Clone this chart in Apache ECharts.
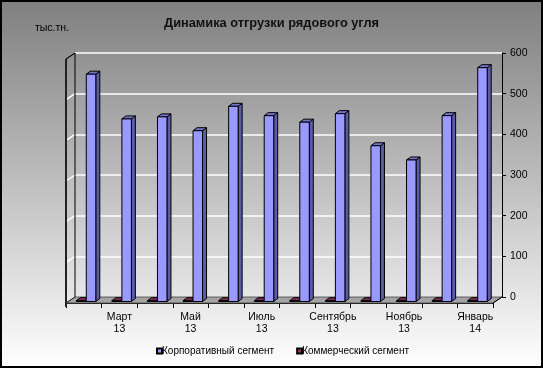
<!DOCTYPE html>
<html><head><meta charset="utf-8">
<script src="https://cdn.jsdelivr.net/npm/echarts@6/dist/echarts.min.js"></script>
<style>html,body{margin:0;padding:0;background:#fff}#c{width:543px;height:368px}</style>
</head><body><div id="c"></div>
<script>
// ---- data ----
const categories = ['Февраль\n13','Март\n13','Апрель\n13','Май\n13','Июнь\n13','Июль\n13','Август\n13','Сентябрь\n13','Октябрь\n13','Ноябрь\n13','Декабрь\n13','Январь\n14'];
const corporate = [559, 449, 454, 420, 480, 457, 441, 462, 383, 348, 457, 575];
const commercial = [2, 2, 2, 2, 2, 2, 2, 2, 2, 2, 2, 2];
const seriesNames = ['Корпоративный сегмент', 'Коммерческий сегмент'];
const yTicks = {min: 0, max: 600, interval: 100};

// ---- layout ----
const W = 543, H = 368;
const BACK = {l: 75, t: 53, r: 502, b: 297};
const DX = -9, DY = 6;
const FRONT = {l: BACK.l + DX, t: BACK.t + DY, r: BACK.r + DX, b: BACK.b + DY};

const chart = echarts.init(document.getElementById('c'), null, {renderer: 'canvas'});

function makeBar(colors, offset) {
  return function (params, api) {
    const i = api.value(0), v = api.value(1);
    const c0 = api.coord([i, 0]);
    const ct = api.coord([i, v]);
    const bw = 9.5, dd = 4, dh = 3;
    const x0 = c0[0] + offset, x1 = x0 + bw;
    const yb = c0[1] - 1.5, yt = ct[1] - 1.5;
    const st = {stroke: '#000', lineWidth: 1, lineJoin: 'round'};
    return {
      type: 'group',
      children: [
        {type: 'polygon', shape: {points: [[x1, yt], [x1 + dd, yt - dh], [x1 + dd, yb - dh], [x1, yb]]}, style: Object.assign({fill: colors[1]}, st)},
        {type: 'polygon', shape: {points: [[x0, yt], [x0 + dd, yt - dh], [x1 + dd, yt - dh], [x1, yt]]}, style: Object.assign({fill: colors[2]}, st)},
        {type: 'polygon', shape: {points: [[x0, yt], [x1, yt], [x1, yb], [x0, yb]]}, style: Object.assign({fill: colors[0]}, st)}
      ]
    };
  };
}

const font = 'Liberation Sans, Arial, sans-serif';

const option = {
  animation: false,
  backgroundColor: {
    type: 'linear', x: 0, y: 0, x2: 0, y2: 1,
    colorStops: [{offset: 0, color: '#7f7f7f'}, {offset: 1, color: '#ffffff'}]
  },
  title: {
    text: 'Динамика отгрузки рядового угля',
    left: 'center', top: 12,
    textStyle: {fontFamily: font, fontSize: 12.8, fontWeight: 'bold', color: '#111'}
  },
  legend: {
    bottom: 12, left: 156, padding: 0,
    itemWidth: 5, itemHeight: 5, itemGap: 22, icon: 'rect',
    textStyle: {fontFamily: font, fontSize: 10, color: '#000', padding: [0, 0, 0, -5]},
    data: seriesNames
  },
  grid: [
    {left: BACK.l, top: BACK.t, width: BACK.r - BACK.l, height: BACK.b - BACK.t},
    {left: FRONT.l, top: FRONT.t, width: FRONT.r - FRONT.l, height: FRONT.b - FRONT.t}
  ],
  xAxis: [
    {gridIndex: 0, type: 'category', data: categories, show: false},
    {gridIndex: 1, type: 'category', data: categories, position: 'bottom',
      axisLine: {show: true, lineStyle: {color: '#000', width: 1}},
      axisTick: {show: true, interval: 0, length: 5, lineStyle: {color: '#000'}},
      axisLabel: {interval: function (idx) { return idx % 2 === 1; }, fontFamily: font, fontSize: 10.5, color: '#000', lineHeight: 12, margin: 8},
      splitLine: {show: false}}
  ],
  yAxis: [
    {gridIndex: 0, type: 'value', position: 'right', min: yTicks.min, max: yTicks.max, interval: yTicks.interval,
      axisLine: {show: true, lineStyle: {color: '#000', width: 1}},
      axisTick: {show: true, length: 4, lineStyle: {color: '#000'}},
      axisLabel: {fontFamily: font, fontSize: 10.5, color: '#000', margin: 8},
      splitLine: {show: true, lineStyle: {color: '#ffffff', width: 1.5}}},
    {gridIndex: 1, type: 'value', min: yTicks.min, max: yTicks.max, interval: yTicks.interval, show: false,
      splitLine: {show: false}}
  ],
  series: [
    {name: seriesNames[0], type: 'custom', xAxisIndex: 1, yAxisIndex: 1, z: 5,
      itemStyle: {color: '#9999FF', borderColor: '#000', borderWidth: 0.5},
      renderItem: makeBar(['#9999FF', '#5c5ca6', '#7474cc'], 2.5),
      data: corporate.map((v, i) => [i, v])},
    {name: seriesNames[1], type: 'custom', xAxisIndex: 1, yAxisIndex: 1, z: 4,
      itemStyle: {color: '#993366', borderColor: '#000', borderWidth: 0.5},
      renderItem: makeBar(['#993366', '#662244', '#7a2a55'], -7.5),
      data: commercial.map((v, i) => [i, v])}
  ]
};
chart.setOption(option);

// walls & floor (decoration built from layout constants + axis scale)
const g = [];
g.push({type: 'rect', shape: {x: 1, y: 1, width: W - 2, height: H - 2}, style: {fill: null, stroke: '#000', lineWidth: 2}, z: 100});
// floor
g.push({type: 'polygon', z: 1, shape: {points: [[FRONT.l, FRONT.b], [FRONT.r, FRONT.b], [BACK.r, BACK.b], [BACK.l, BACK.b]]},
  style: {fill: '#a4a4a4', stroke: '#555', lineWidth: 1}});
// left wall gridlines
for (let v = yTicks.min + yTicks.interval; v <= yTicks.max; v += yTicks.interval) {
  const y = chart.convertToPixel({yAxisIndex: 0}, v);
  g.push({type: 'line', z: 1, shape: {x1: FRONT.l, y1: y + DY, x2: BACK.l, y2: y}, style: {stroke: '#fff', lineWidth: 1.5}});
}
// left wall edges
g.push({type: 'line', z: 2, shape: {x1: BACK.l, y1: BACK.t, x2: BACK.l, y2: BACK.b}, style: {stroke: '#000', lineWidth: 1}});
g.push({type: 'line', z: 2, shape: {x1: FRONT.l, y1: FRONT.t, x2: FRONT.l, y2: FRONT.b + 4}, style: {stroke: '#222', lineWidth: 2}});
g.push({type: 'line', z: 2, shape: {x1: FRONT.l, y1: FRONT.t, x2: BACK.l, y2: BACK.t}, style: {stroke: '#000', lineWidth: 1.5}});
g.push({type: 'line', z: 2, shape: {x1: FRONT.l, y1: FRONT.b, x2: BACK.l, y2: BACK.b}, style: {stroke: '#333', lineWidth: 1}});
g.push({type: 'line', z: 2, shape: {x1: FRONT.r, y1: FRONT.b, x2: BACK.r, y2: BACK.b}, style: {stroke: '#000', lineWidth: 1}});
// unit label
g.push({type: 'text', z: 10, left: 35, top: 23, style: {text: 'тыс.тн.', font: '10.5px ' + font, fill: '#000'}});
chart.setOption({graphic: g});
</script>
</body></html>
